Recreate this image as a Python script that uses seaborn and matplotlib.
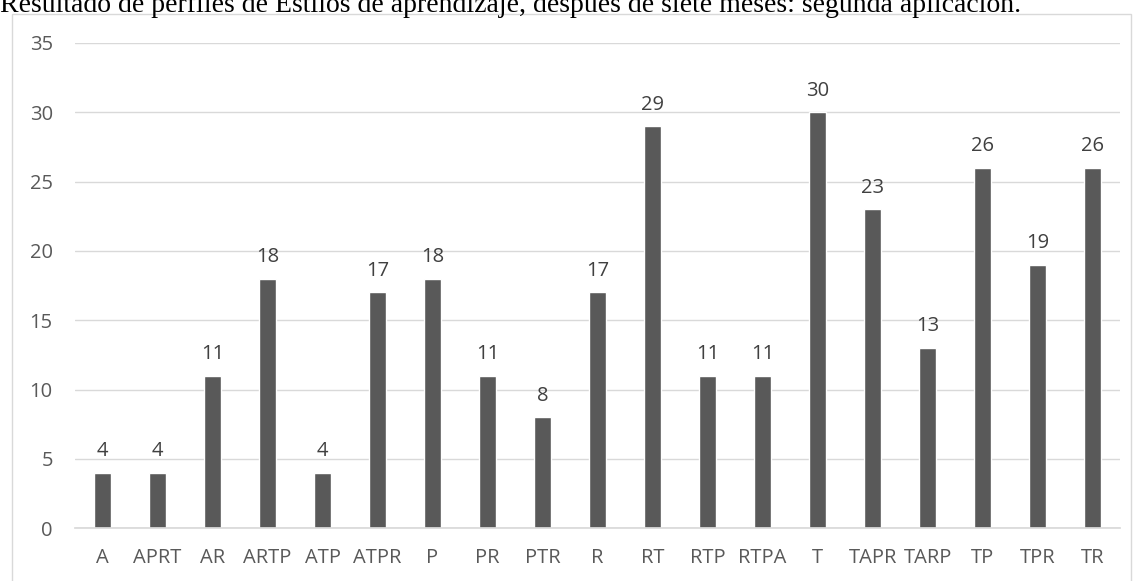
import numpy as np
import pandas as pd
import seaborn as sns
import matplotlib.pyplot as plt
from matplotlib.patches import Rectangle

perfiles = ["A", "APRT", "AR", "ARTP", "ATP", "ATPR", "P", "PR", "PTR", "R",
            "RT", "RTP", "RTPA", "T", "TAPR", "TARP", "TP", "TPR", "TR"]
valores = [4, 4, 11, 18, 4, 17, 18, 11, 8, 17, 29, 11, 11, 30, 23, 13, 26, 19, 26]
yticks = [0, 5, 10, 15, 20, 25, 30, 35]

df = pd.DataFrame({"perfil": perfiles, "n": valores})

sns.set_theme(style="white")
plt.rcParams["font.family"] = ["Open Sans", "DejaVu Sans"]

gris = "#595959"
fig = plt.figure(figsize=(11.36, 5.81), dpi=100)
ax = fig.add_axes([0.066, 0.091, 0.92, 0.835])

sns.barplot(data=df, x="perfil", y="n", color=gris, width=0.31,
            saturation=1, ax=ax)

for i, v in enumerate(valores):
    ax.text(i, v + 1.2, str(v), ha="center", va="baseline",
            fontsize=14.5, color="#404040")

ax.set_ylim(0, 35)
ax.set_yticks(yticks)
ax.set_xlim(-0.5, len(perfiles) - 0.5)
ax.yaxis.grid(True, color="#d9d9d9", linewidth=1)
ax.set_axisbelow(True)
for s in ["top", "right", "left"]:
    ax.spines[s].set_visible(False)
ax.spines["bottom"].set_color("#d9d9d9")
ax.tick_params(axis="both", length=0, labelsize=14.5, labelcolor=gris)
ax.tick_params(axis="x", pad=14)
ax.tick_params(axis="y", pad=16)
ax.set_xlabel("")
ax.set_ylabel("")

# marco del grafico
fig.patches.append(Rectangle((12 / 1136, -0.01), 1119 / 1136, 1 - 14 / 581 + 0.01,
                             transform=fig.transFigure, fill=False,
                             edgecolor="#d9d9d9", linewidth=1))

fig.text(0.0, 1 - 12 / 581, "Resultado de perfiles de Estilos de aprendizaje, después de siete meses: segunda aplicación.",
         family=["Liberation Serif", "DejaVu Serif"], fontsize=20,
         ha="left", va="baseline", color="black")

fig.savefig("out.png", dpi=100)
